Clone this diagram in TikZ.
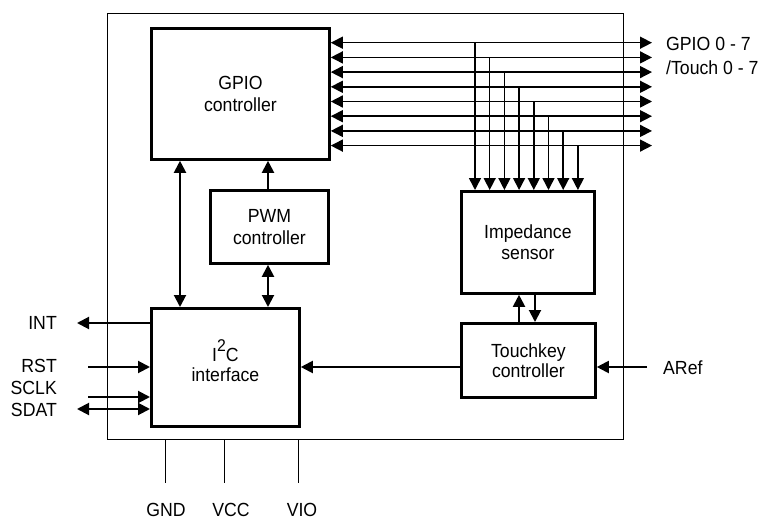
\documentclass[tikz,border=0pt]{standalone}
\usepackage{fontspec}
\setmainfont{Liberation Sans}[FakeStretch=0.93]
\usetikzlibrary{arrows.meta}
\newcommand{\dfont}{\fontsize{19}{21.5}\selectfont}
\begin{document}
\begin{tikzpicture}[x=1pt,y=-1pt,
  blk/.style={draw,line width=2.8pt,align=center,inner sep=0pt,anchor=north west,font=\dfont},
  lbl/.style={inner sep=0pt,font=\dfont},
  con/.style={line width=2pt},
  tip/.style={-{Triangle[length=12pt,width=12pt]}},
  dtip/.style={{Triangle[length=12pt,width=12pt]}-{Triangle[length=12pt,width=12pt]}},
  bus/.style={line width=1.5pt},
  pin/.style={line width=1pt}]
\useasboundingbox (0,0) rectangle (763,519);
\node[draw,line width=1.2pt,minimum width=516pt,minimum height=426pt,anchor=north west,inner sep=0pt] (outer) at (107,13) {};
\node[blk,minimum width=178pt,minimum height=131pt] (gpio) at (150,27) {GPIO\\controller};
\node[blk,minimum width=118pt,minimum height=73pt] (pwm) at (209,189) {PWM\\controller};
\node[blk,minimum width=148pt,minimum height=118pt,text depth=6pt] (i2c) at (150,307) {I\smash{\raisebox{10pt}{\fontsize{17}{17}\selectfont 2}}C\\[-1.5pt]interface};
\node[blk,minimum width=133pt,minimum height=102pt] (imp) at (460,190) {Impedance\\sensor};
\node[blk,minimum width=134pt,minimum height=74pt,font=\fontsize{19}{20}\selectfont] (touch) at (460,322) {Touchkey\\controller};
% bus
\foreach \i in {0,...,7}{
  \coordinate (r\i) at (652,{42.7+\i*14.7});
  \coordinate (d\i) at ({475+\i*14.7},{42.7+\i*14.7});
  \draw[bus,dtip] (gpio.east |- r\i) -- (r\i);
  \draw[bus,tip] (d\i) -- (d\i |- imp.north);
}
\node[lbl,anchor=west] (gl) at (666,44) {GPIO 0 - 7};
\node[lbl,anchor=west] (tl) at (666,68) {/Touch 0 - 7};
% internal connectors
\coordinate (xa) at (180,0);
\coordinate (xb) at (268,0);
\coordinate (xu) at (519,0);
\coordinate (xd) at (535,0);
\draw[con,dtip] (xa |- gpio.south) -- (xa |- i2c.north);
\draw[con,tip] (xb |- pwm.north) -- (xb |- gpio.south);
\draw[con,dtip] (xb |- pwm.south) -- (xb |- i2c.north);
\draw[con,tip] (xu |- touch.north) -- (xu |- imp.south);
\draw[con,tip] (xd |- imp.south) -- (xd |- touch.north);
\draw[con,tip] (touch.west |- 0,367) -- (i2c.east |- 0,367);
\coordinate (aref) at (647,367);
\draw[con,tip] (aref) -- (touch.east |- aref);
\node[lbl,anchor=west] (arefl) at (663,368) {ARef};
% left pins
\coordinate (pint) at (77,323);
\coordinate (prst) at (88,367);
\coordinate (psclk) at (88,397);
\coordinate (psdat) at (77,409);
\draw[con,tip] (i2c.west |- pint) -- (pint);
\draw[con,tip] (prst) -- (i2c.west |- prst);
\draw[con,tip] (psclk) -- (i2c.west |- psclk);
\draw[con,dtip] (psdat) -- (i2c.west |- psdat);
\node[lbl,anchor=east] (intl) at (57,323) {INT};
\node[lbl,anchor=east] (rstl) at (57,366) {RST};
\node[lbl,anchor=east] (sclkl) at (57,388) {SCLK};
\node[lbl,anchor=east] (sdatl) at (57,410) {SDAT};
% bottom pins
\node[lbl,anchor=base] (gnd) at (166,516) {GND};
\node[lbl,anchor=base] (vcc) at (231,516) {VCC};
\node[lbl,anchor=base] (vio) at (302,516) {VIO};
\coordinate (pg) at (165,483);
\coordinate (pv) at (224,483);
\coordinate (pi) at (298,483);
\draw[pin] (outer.south -| pg) -- (pg);
\draw[pin] (outer.south -| pv) -- (pv);
\draw[pin] (outer.south -| pi) -- (pi);
\end{tikzpicture}
\end{document}
